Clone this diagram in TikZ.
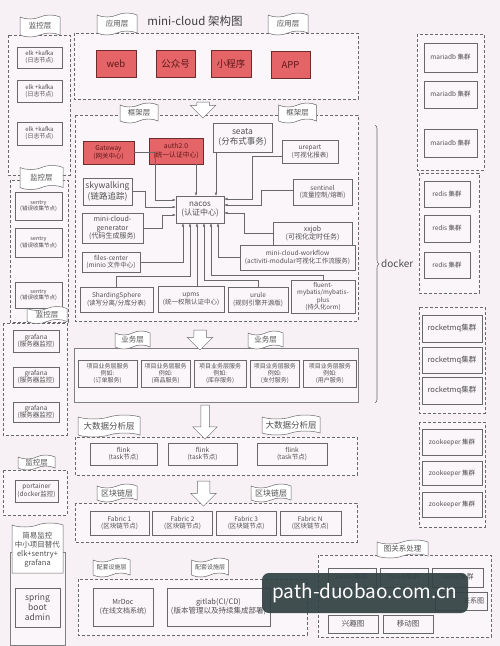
\documentclass[tikz,border=0pt]{standalone}
\usepackage{fontspec}
\setmainfont{Noto Sans CJK SC}
\usetikzlibrary{arrows.meta,positioning,shapes.symbols,shapes.arrows,decorations.pathreplacing}
\definecolor{bgclr}{RGB}{247,241,246}
\definecolor{panelclr}{RGB}{250,246,249}
\definecolor{lineclr}{RGB}{105,105,105}
\definecolor{txtclr}{RGB}{80,80,80}
\definecolor{redfill}{RGB}{228,100,104}
\definecolor{redline}{RGB}{110,45,45}
\definecolor{redtxt}{RGB}{95,25,25}
\definecolor{wmclr}{RGB}{50,66,68}
\newcommand\fsz[1]{\fontsize{#1}{1.2\dimexpr#1pt\relax}\selectfont}

\begin{document}
\begin{tikzpicture}[x=1pt,y=-1pt,
  box/.style={draw=lineclr,line width=0.6pt,fill=panelclr,align=center,text=txtclr,inner sep=1pt,font=\fsz{6.5}},
  rbox/.style={box,fill=redfill,draw=redline,text=redtxt},
  sz/.style 2 args={minimum width=#1pt,minimum height=#2pt},
  flag/.style={tape,draw=lineclr,line width=0.5pt,fill=white,tape bend height=4pt,text=txtclr,align=center,inner sep=0pt,font=\fsz{7.5}},
  layer/.style={draw=lineclr,line width=0.6pt,dash pattern=on 3pt off 2pt,fill=panelclr},
  solidbox/.style={draw=lineclr!85,line width=0.8pt,fill=panelclr},
  arr/.style={-{Latex[length=3.5pt,width=2.6pt]},draw=lineclr,line width=0.5pt},
  downarr/.style={single arrow,draw=lineclr,fill=white,line width=0.5pt,rotate=-90,inner xsep=0pt,inner ysep=6pt,single arrow head extend=6.5pt},
  wmark/.style={rounded corners=7pt,fill=wmclr,fill opacity=0.93,text opacity=1,text=white,minimum width=206pt,minimum height=40pt,font=\fsz{19}}]
  \fill[bgclr] (0,0) rectangle (500,646);
  \useasboundingbox (0,0) rectangle (500,646);

  \draw[layer] (74,33) rectangle (358,99);
  \draw[layer] (75,115) rectangle (358,321);
  \draw[solidbox] (74,348) rectangle (358,402);
  \draw[layer] (75,437) rectangle (357,475);
  \draw[layer] (75,503) rectangle (357,542);
  \draw[layer] (78,579) rectangle (307,635);
  \draw[layer] (318,555) rectangle (491,637);
  \draw[layer] (8,35) rectangle (70,175);
  \draw[layer] (10,180) rectangle (68,322);
  \draw[layer] (3,323) rectangle (67,435);
  \draw[layer] (3,470) rectangle (67,515);
  \draw[solidbox] (10,552) rectangle (65,645);
  \draw[layer] (417,34) rectangle (484,170);
  \draw[layer] (419,173) rectangle (479,293);
  \draw[layer] (419,307) rectangle (485,413);
  \draw[layer] (419,422) rectangle (485,527);

  \node[font=\fsz{11.5},text=txtclr!80!black] (title) at (195,21) {mini-cloud 架构图};
  \node[flag,sz={40}{22}] (appflagL) at (117,24) {应用层};
  \node[flag,sz={40}{22}] (appflagR) at (288,24) {应用层};
  \node[rbox,sz={40}{27},font=\fsz{9.5}] (web) at (116,63.5) {web};
  \node[rbox,sz={39}{27},font=\fsz{9.5}] (gzh) at (175.5,63.5) {公众号};
  \node[rbox,sz={40}{27},font=\fsz{9.5}] (xcx) at (231,63.5) {小程序};
  \node[rbox,sz={39}{27},font=\fsz{9.5}] (app) at (290.5,65) {APP};
  \node[downarr,minimum height=16pt] (arrA) at (203,107) {};

  \node[flag,sz={38}{20}] (fwflagL) at (139,113) {框架层};
  \node[flag,sz={38}{20}] (fwflagR) at (297.5,113) {框架层};
  \node[rbox,sz={51}{23}] (gateway) at (108.5,152.5) {Gateway\\(网关中心)};
  \node[rbox,sz={54}{26},font=\fsz{6.8}] (auth) at (176,151) {auth2.0\\(统一认证中心)};
  \node[box,sz={59}{29},font=\fsz{8.5}] (seata) at (242.5,137.5) {seata\\(分布式事务)};
  \node[box,sz={56}{23}] (urepart) at (310,151.5) {urepart\\(可视化报表)};
  \node[box,sz={49}{27},font=\fsz{8.5}] (skywalking) at (107.5,191.5) {skywalking\\(链路追踪)};
  \node[box,sz={59}{26}] (sentinel) at (322.5,192) {sentinel\\(流量控制/熔断)};
  \node[box,sz={48}{27},font=\fsz{8}] (nacos) at (200,209.5) {nacos\\(认证中心)};
  \node[box,sz={61}{30},font=\fsz{7}] (generator) at (112.5,228) {mini-cloud-\\generator\\(代码生成服务)};
  \node[box,sz={79}{23},font=\fsz{7}] (xxjob) at (312.5,233.5) {xxjob\\(可视化定时任务)};
  \node[box,sz={58}{20}] (files) at (111,262) {files-center\\(minio 文件中心)};
  \node[box,sz={115}{25}] (workflow) at (297.5,257.5) {mini-cloud-workflow\\(activiti-modular可视化工作流服务)};
  \node[box,sz={73}{25}] (sharding) at (116.5,299.5) {ShardingSphere\\(读写分离/分库分表)};
  \node[box,sz={66}{26}] (upms) at (191,299) {upms\\(统一权限认证中心)};
  \node[box,sz={60}{25}] (urule) at (258,299.5) {urule\\(规则引擎开源版)};
  \node[box,sz={64}{33},font=\fsz{6.3}] (fluent) at (323,296.5) {fluent-\\mybatis/mybatis-\\plus\\(持久化orm)};

  \coordinate (nL1) at (176,200); \coordinate (nL2) at (176,207); \coordinate (nL3) at (176,215);
  \coordinate (nT1) at (196,196); \coordinate (nT2) at (216,196);
  \coordinate (nR1) at (224,199); \coordinate (nR2) at (224,205); \coordinate (nR3) at (224,213);
  \coordinate (nB1) at (183,223); \coordinate (nB2) at (190,223); \coordinate (nB3) at (197,223);
  \coordinate (nB4) at (204,223); \coordinate (nB5) at (211,223); \coordinate (nB6) at (218,223);
  \draw[arr] (gateway.east) -- ++(21,0) |- (nL1);
  \draw[arr] (skywalking.east) -- ++(13,0) |- (nL2);
  \draw[arr] (generator.east) -- ++(19,0) |- (nL3);
  \draw[arr] (auth.south -| nT1) -- (nT1);
  \draw[arr] (seata.south -| nT2) -- (nT2);
  \draw[arr] ([yshift=-5pt]urepart.west) -- ++(-29,0) |- (nR1);
  \draw[arr] ([yshift=2pt]sentinel.west) -- ++(-31,0) |- (nR2);
  \draw[arr] (xxjob.west) -- ++(-28,0) |- (nR3);
  \draw[arr] (files.east) -| (nB1);
  \draw[arr] (sharding.north) -- ++(0,-10) -| (nB2);
  \draw[arr] (upms.north -| nB3) -- (nB3);
  \draw[arr] (urule.north) -- ++(0,-6) -| (nB4);
  \draw[arr] (fluent.north) -- ++(0,-4) -| (nB5);
  \draw[arr] (workflow.west) -| (nB6);

  \node[flag,sz={35}{18}] (bizflagL) at (132.5,340) {业务层};
  \node[flag,sz={35}{18}] (bizflagR) at (265.5,340) {业务层};
  \node[downarr,minimum height=20pt] (arrB) at (200,337) {};
  \node[box,sz={59}{27},font=\fsz{6}] (bizA) at (107.5,373.5) {项目业务层服务\\例如:\\(订单服务)};
  \node[box,sz={49}{27},font=\fsz{6},right=3.5pt of bizA] (bizB) {项目业务层服务\\例如:\\(商品服务)};
  \node[box,sz={52}{27},font=\fsz{6},right=3.5pt of bizB] (bizC) {项目业务层服务\\例如:\\(库存服务)};
  \node[box,sz={49}{27},font=\fsz{6},right=3.5pt of bizC] (bizD) {项目业务层服务\\例如:\\(支付服务)};
  \node[box,sz={53}{27},font=\fsz{6},right=3.5pt of bizD] (bizE) {项目业务层服务\\例如:\\(用户服务)};

  \node[downarr,minimum height=34pt,inner ysep=4pt,single arrow head extend=8pt] (arrC) at (205,420) {};
  \node[flag,sz={62}{22},font=\fsz{8.5}] (bdflagL) at (109,426) {大数据分析层};
  \node[flag,sz={58}{20},font=\fsz{8.5}] (bdflagR) at (291,425) {大数据分析层};
  \node[box,sz={67}{22}] (flinkA) at (123.5,454) {flink\\(task节点)};
  \node[box,sz={69}{22}] (flinkB) at (202.5,454) {flink\\(task节点)};
  \node[box,sz={70}{22}] (flinkC) at (292,454) {flink\\(task节点)};

  \node[downarr,minimum height=25pt] (arrD) at (203.5,490.5) {};
  \node[flag,sz={40}{18},font=\fsz{8}] (bcflagL) at (117,493) {区块链层};
  \node[flag,sz={40}{18},font=\fsz{8}] (bcflagR) at (271,493) {区块链层};
  \node[box,sz={59}{24}] (fabricA) at (119.5,523) {Fabric 1\\(区块链节点)};
  \node[box,sz={60}{24},right=3pt of fabricA] (fabricB) {Fabric 2\\(区块链节点)};
  \node[box,sz={60}{24},right=3pt of fabricB] (fabricC) {Fabric 3\\(区块链节点)};
  \node[box,sz={61}{24},right=3pt of fabricC] (fabricD) {Fabric N\\(区块链节点)};

  \node[flag,sz={37}{19},font=\fsz{6}] (supflagL) at (111.5,567.5) {配套设施层};
  \node[flag,sz={37}{19},font=\fsz{6}] (supflagR) at (210,567.5) {配套设施层};
  \node[box,sz={60}{38},font=\fsz{7}] (mrdoc) at (123,607) {MrDoc\\(在线文档系统)};
  \node[box,sz={103}{38},font=\fsz{7.5}] (gitlab) at (218.5,607) {gitlab(CI/CD)\\(版本管理以及持续集成部署)};

  \node[flag,sz={51}{18}] (graphflag) at (402.5,549) {图关系处理};
  \node[box,sz={48}{19},font=\fsz{7}] (neoA) at (352,577.5) {neo4j集群};
  \node[box,sz={48}{19},font=\fsz{7}] (neoB) at (404,577.5) {neo4j集群};
  \node[box,sz={51}{19},font=\fsz{7}] (neoC) at (457.5,577.5) {neo4j集群};
  \node[box,minimum height=18pt,text width=46pt,inner xsep=3pt,align=right,font=\fsz{7}] (relgraph) at (461,601) {关系图};
  \node[box,sz={50}{18},font=\fsz{7.5}] (interest) at (353,624) {兴趣图};
  \node[box,sz={50}{18},font=\fsz{7.5}] (mobile) at (408,624) {移动图};

  \node[flag,sz={40}{22}] (monflagA) at (40,26) {监控层};
  \node[box,sz={45}{21},font=\fsz{6}] (elkA) at (39.5,57.5) {elk +kafka\\(日志节点)};
  \node[box,sz={45}{22},font=\fsz{6}] (elkB) at (39.5,91) {elk +kafka\\(日志节点)};
  \node[box,sz={45}{23},font=\fsz{6}] (elkC) at (39.5,133.5) {elk +kafka\\(日志节点)};
  \node[flag,sz={43}{24}] (monflagB) at (41.5,177.5) {监控层};
  \node[box,sz={47}{28},font=\fsz{5.5}] (sentryA) at (38.5,206) {sentry\\(错误收集节点)};
  \node[box,sz={47}{29},font=\fsz{5.5}] (sentryB) at (38.5,242.5) {sentry\\(错误收集节点)};
  \node[box,sz={47}{26},font=\fsz{5.5}] (sentryC) at (38.5,295) {sentry\\(错误收集节点)};
  \node[flag,sz={40}{17}] (monflagC) at (47,315) {监控层};
  \node[box,sz={46}{22}] (grafanaA) at (36,341) {grafana\\(服务器监控)};
  \node[box,sz={46}{20}] (grafanaB) at (36,377) {grafana\\(服务器监控)};
  \node[box,sz={46}{20}] (grafanaC) at (36,412) {grafana\\(服务器监控)};
  \node[flag,sz={37}{15}] (monflagD) at (36.5,462.5) {监控层};
  \node[box,sz={43}{22}] (portainer) at (36.5,491) {portainer\\(docker监控)};
  \node[flag,tape bend bottom=none,sz={51}{50}] (simplemon) at (37.5,550) {简易监控\\中小项目替代\\elk+sentry+\\grafana};
  \node[box,sz={45}{39},font=\fsz{8.5}] (sba) at (37.5,607.5) {spring\\boot\\admin};

  \node[box,sz={53}{29}] (mariaA) at (450.5,57.5) {mariadb 集群};
  \node[box,sz={53}{27}] (mariaB) at (450.5,94.5) {mariadb 集群};
  \node[box,sz={53}{28}] (mariaC) at (450.5,143) {mariadb 集群};
  \node[box,sz={46}{26}] (redisA) at (447,194) {redis 集群};
  \node[box,sz={46}{27}] (redisB) at (447,228.5) {redis 集群};
  \node[box,sz={46}{26}] (redisC) at (447,265) {redis 集群};
  \node[box,sz={60}{27},font=\fsz{7.5}] (mqA) at (452,328.5) {rocketmq集群};
  \node[box,sz={60}{26},font=\fsz{7.5}] (mqB) at (452,360) {rocketmq集群};
  \node[box,sz={60}{27},font=\fsz{7.5}] (mqC) at (452,390.5) {rocketmq集群};
  \node[box,sz={60}{26}] (zkA) at (452,442) {zookeeper 集群};
  \node[box,sz={60}{24}] (zkB) at (452,473) {zookeeper 集群};
  \node[box,sz={60}{25}] (zkC) at (452,504.5) {zookeeper 集群};

  \coordinate (dockertop) at (375,125);
  \coordinate (dockerbot) at (375,403);
  \draw[lineclr,line width=0.6pt,decorate,decoration={brace,amplitude=4pt}] (dockertop) -- (dockerbot);
  \node[anchor=west,inner sep=0pt,font=\fsz{10},text=txtclr] (docker) at (381,264) {docker};

  \node[wmark] (watermark) at (365,593) {path-duobao.com.cn};
\end{tikzpicture}
\end{document}
